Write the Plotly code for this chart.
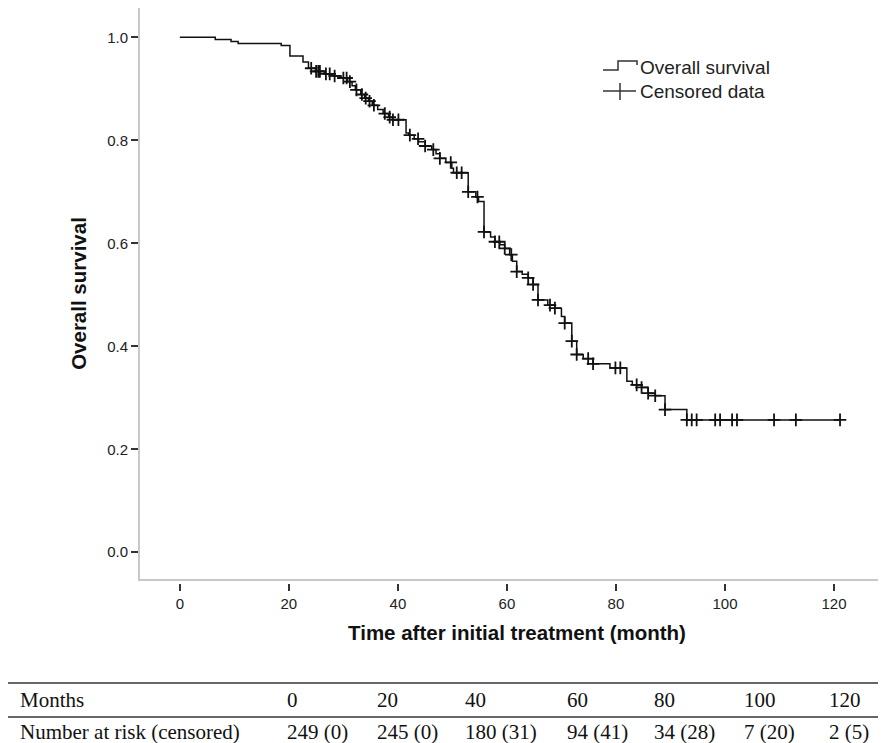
# %% ---- KM curve: overall survival ------------------------
# Requirements and constants
import numpy as np
import plotly.graph_objects as go

# event (death) times in months and survival right after each drop
event_t = [6.5, 9.4, 10.7, 18.6, 20.2, 22.6, 23.6, 24.9, 26.5, 28.0,
           29.6, 30.8, 31.6, 32.2, 33.2, 33.9, 34.6, 35.3, 36.3, 37.3,
           38.3, 39.0, 41.5, 42.0, 43.0, 43.8, 45.0, 46.2, 47.0, 47.7,
           48.8, 49.9, 50.2, 52.9, 54.3, 54.8, 55.8, 57.0, 57.8, 58.7,
           59.6, 60.5, 61.0, 61.8, 62.8, 63.9, 64.8, 65.7, 67.5, 68.8,
           70.0, 70.6, 71.9, 72.8, 74.0, 75.8, 78.9, 82.0, 83.0, 84.7,
           85.9, 87.2, 89.0, 93.0]
surv = [0.996, 0.992, 0.988, 0.984, 0.964, 0.952, 0.940, 0.934, 0.929, 0.925,
        0.921, 0.914, 0.906, 0.898, 0.889, 0.882, 0.876, 0.868, 0.860, 0.852,
        0.845, 0.840, 0.814, 0.810, 0.803, 0.797, 0.789, 0.782, 0.774, 0.765,
        0.757, 0.746, 0.737, 0.700, 0.690, 0.681, 0.622, 0.612, 0.603, 0.597,
        0.590, 0.578, 0.565, 0.545, 0.540, 0.533, 0.520, 0.490, 0.480, 0.474,
        0.458, 0.445, 0.410, 0.384, 0.376, 0.366, 0.358, 0.332, 0.325, 0.320,
        0.309, 0.304, 0.277, 0.257]

# censored observation times (months)
censor_t = [24.1, 25.0, 25.4, 25.7, 26.8, 27.5, 28.4, 30.0, 30.6, 31.2,
            32.4, 33.4, 34.1, 34.8, 35.6, 37.6, 38.5, 39.1, 40.1, 42.2,
            43.7, 45.0, 46.5, 47.7, 49.7, 50.8, 51.7, 52.9, 54.6, 55.8,
            57.8, 58.6, 59.6, 60.8, 61.8, 63.9, 64.8, 65.7, 67.9, 68.8,
            70.6, 71.9, 72.8, 74.9, 75.8, 79.9, 80.8, 83.8, 84.7, 85.9,
            87.2, 89.0, 93.0, 93.9, 94.8, 98.2, 99.1, 101.3, 102.2, 109.0,
            113.0, 121.1]

x_ticks = [0, 20, 40, 60, 80, 100, 120]
y_ticks = [0, 0.2, 0.4, 0.6, 0.8, 1.0]

# number-at-risk table
table_months = ['0', '20', '40', '60', '80', '100', '120']
table_risk = ['249 (0)', '245 (0)', '180 (31)', '94 (41)', '34 (28)',
              '7 (20)', '2 (5)']

# page layout in pixels
W, H = 886, 743
L, B = 132, 168          # plot area: x 132..886, y 0..575
GAP = 4                  # x-axis line sits a few px above its ticks
col_px = [277, 367, 455, 557, 644, 734, 819]


# %% ---- Function and class ------------------------
def px_x(p):
    return (p - L) / (W - L)


def px_y(p):
    return (H - B - p) / (H - B)


step_x = [0] + event_t + [max(censor_t)]
step_y = [1.0] + surv + [surv[-1]]

s_all = np.array([1.0] + surv)
idx = np.searchsorted(np.array(event_t), np.array(censor_t), side='right')
censor_s = s_all[idx]


# %% ---- Play ground ------------------------
sans = 'Liberation Sans, Arial, sans-serif'
serif = 'Liberation Serif, Times New Roman, serif'
ink = '#111111'

fig = go.Figure()
fig.add_trace(go.Scatter(
    x=step_x, y=step_y, mode='lines', line_shape='hv',
    line=dict(color=ink, width=1.5), name='Overall survival'))
fig.add_trace(go.Scatter(
    x=censor_t, y=censor_s, mode='markers', xaxis='x2',
    marker=dict(symbol='cross-thin', size=9, line=dict(color=ink, width=1.8)),
    name='Censored data'))

x_range = [-7.3, 131]
fig.update_layout(
    width=W, height=H,
    margin=dict(l=L, r=0, t=0, b=B),
    paper_bgcolor='white', plot_bgcolor='white',
    font=dict(family=sans, color='#222222'),
    showlegend=False,
    xaxis=dict(range=x_range, showgrid=False, zeroline=False,
               showline=True, linecolor='#c8c8c8', linewidth=2,
               ticks='', showticklabels=False),
    xaxis2=dict(range=x_range, overlaying='x', anchor='free', position=0,
                tickvals=x_ticks, showgrid=False, zeroline=False, showline=False,
                ticks='outside', ticklen=7, tickwidth=2, tickcolor='#333333',
                tickfont=dict(size=15, color='#222222'),
                title=dict(text='<b>Time after initial treatment (month)</b>',
                           font=dict(size=20.5, color=ink), standoff=14)),
    yaxis=dict(domain=[GAP / (H - B), 1],
               range=[-0.052, 1.057], tickvals=y_ticks,
               tickformat='.1f', showgrid=False, zeroline=False,
               showline=True, linecolor='#c8c8c8', linewidth=2,
               ticks='outside', ticklen=7, tickwidth=2, tickcolor='#333333',
               tickfont=dict(size=15, color='#222222'),
               title=dict(text='<b>Overall survival</b>',
                          font=dict(size=20.5, color=ink), standoff=15)),
)

# legend drawn by hand: step glyph and line-with-cross glyph
fig.add_shape(type='path', xref='paper', yref='paper',
              path=(f'M {px_x(595)},{px_y(62)} L {px_x(610)},{px_y(62)} '
                    f'L {px_x(610)},{px_y(53)} L {px_x(629)},{px_y(53)} '
                    f'L {px_x(629)},{px_y(57)}'),
              line=dict(color='#333333', width=1.5))
fig.add_shape(type='line', xref='paper', yref='paper',
              x0=px_x(595), x1=px_x(628), y0=px_y(83), y1=px_y(83),
              line=dict(color='#333333', width=1.5))
fig.add_shape(type='line', xref='paper', yref='paper',
              x0=px_x(612), x1=px_x(612), y0=px_y(75), y1=px_y(92),
              line=dict(color='#333333', width=1.5))
for txt, yy in [('Overall survival', 60), ('Censored data', 83)]:
    fig.add_annotation(text=txt, xref='paper', yref='paper',
                       x=px_x(630), y=px_y(yy), xanchor='left', yanchor='middle',
                       showarrow=False, font=dict(family=sans, size=19, color='#222222'))

# number-at-risk table below the plot
for yy in [675, 709, 740]:
    fig.add_shape(type='line', xref='paper', yref='paper',
                  x0=px_x(0), x1=1, y0=px_y(yy), y1=px_y(yy),
                  line=dict(color='#333333', width=1.5))

rows = [('Months', table_months, 692), ('Number at risk (censored)', table_risk, 724)]
for label, vals, yy in rows:
    fig.add_annotation(text=label, xref='paper', yref='paper',
                       x=px_x(10), y=px_y(yy), xanchor='left', yanchor='middle',
                       showarrow=False, font=dict(family=serif, size=21, color=ink))
    for v, cp in zip(vals, col_px):
        fig.add_annotation(text=v, xref='paper', yref='paper',
                           x=px_x(cp), y=px_y(yy), xanchor='left', yanchor='middle',
                           showarrow=False, font=dict(family=serif, size=21, color=ink))


# %% ---- Pending ------------------------
fig.write_html('out.html')
